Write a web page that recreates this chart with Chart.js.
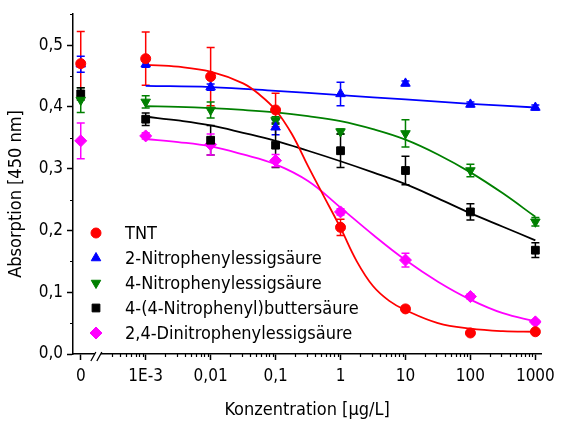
<!DOCTYPE html>
<html>
<head>
<meta charset="utf-8">
<script src="https://cdn.jsdelivr.net/npm/chart.js"></script>
<style>
  html, body { margin: 0; padding: 0; background: #fff; }
</style>
</head>
<body>
<canvas id="chart" width="561" height="422"></canvas>
<script>
// concentrations; "0" is drawn at the 1e-4 position left of the axis break
const conc = [1e-4, 1e-3, 0.01, 0.1, 1, 10, 100, 1000];
const xTickValues = [1e-4, 1e-3, 0.01, 0.1, 1, 10, 100, 1000];
const xTickLabels = ['0', '1E-3', '0,01', '0,1', '1', '10', '100', '1000'];
const yTickValues = [0, 0.1, 0.2, 0.3, 0.4, 0.5];

const seriesNames = ['TNT', '2-Nitrophenylessigsäure', '4-Nitrophenylessigsäure',
  '4-(4-Nitrophenyl)buttersäure', '2,4-Dinitrophenylessigsäure'];

// measured means and error bars
const tntMean = [0.470, 0.478, 0.449, 0.395, 0.205, 0.073, 0.034, 0.036];
const tntErr  = [0.052, 0.043, 0.047, 0.027, 0.013, 0.004, 0.003, 0.003];
const npaMean = [0.469, 0.469, 0.432, 0.367, 0.421, 0.438, 0.404, 0.399];
const npaErr  = [0.013, 0.005, 0.005, 0.012, 0.019, 0.004, 0.004, 0.004];
const p4Mean  = [0.411, 0.408, 0.395, 0.378, 0.360, 0.357, 0.297, 0.214];
const p4Err   = [0.020, 0.010, 0.013, 0.006, 0.004, 0.022, 0.010, 0.007];
const butMean = [0.421, 0.380, 0.346, 0.338, 0.329, 0.297, 0.230, 0.168];
const butErr  = [0.010, 0.010, 0.024, 0.036, 0.027, 0.023, 0.013, 0.012];
const dnpMean = [0.345, 0.353, 0.339, 0.313, 0.230, 0.152, 0.093, 0.052];
const dnpErr  = [0.029, 0.005, 0.017, 0.010, 0.005, 0.011, 0.004, 0.003];

// fitted curves
const tntFitX = [1e-3, 0.00316, 0.01, 0.0316, 0.0562, 0.1, 0.178, 0.316, 0.562, 1, 1.78, 3.16, 5.62, 10, 31.6, 100, 316, 1000];
const tntFitY = [0.468, 0.465, 0.457, 0.438, 0.420, 0.395, 0.356, 0.304, 0.254, 0.204, 0.150, 0.110, 0.086, 0.071, 0.050, 0.041, 0.037, 0.036];
const npaFitX = [1e-3, 0.01, 0.1, 1, 10, 100, 1000];
const npaFitY = [0.434, 0.432, 0.426, 0.419, 0.412, 0.405, 0.399];
const p4FitX  = [1e-3, 0.00316, 0.01, 0.0316, 0.1, 0.316, 1, 3.16, 10, 31.6, 100, 316, 1000];
const p4FitY  = [0.401, 0.400, 0.398, 0.395, 0.391, 0.385, 0.377, 0.364, 0.347, 0.323, 0.294, 0.260, 0.222];
const butFitX = [1e-3, 0.00316, 0.01, 0.0316, 0.1, 0.316, 1, 3.16, 10, 31.6, 100, 316, 1000];
const butFitY = [0.384, 0.378, 0.370, 0.358, 0.345, 0.329, 0.312, 0.294, 0.275, 0.252, 0.228, 0.206, 0.184];
const dnpFitX = [1e-3, 0.00316, 0.01, 0.0316, 0.1, 0.316, 1, 3.16, 10, 31.6, 100, 316, 1000];
const dnpFitY = [0.348, 0.343, 0.336, 0.323, 0.307, 0.280, 0.237, 0.193, 0.152, 0.117, 0.088, 0.066, 0.053];

const FONT = '"DejaVu Sans Condensed", "DejaVu Sans", sans-serif';
Chart.defaults.font.family = FONT;
Chart.defaults.color = '#000';

const series = [
  { name: seriesNames[0], color: '#ff0000', style: 'circle',   rot: 0,   r: 5,   mean: tntMean, err: tntErr, fx: tntFitX, fy: tntFitY },
  { name: seriesNames[1], color: '#0000ff', style: 'triangle', rot: 0,   r: 5.5, mean: npaMean, err: npaErr, fx: npaFitX, fy: npaFitY },
  { name: seriesNames[2], color: '#008000', style: 'triangle', rot: 180, r: 5.5, mean: p4Mean,  err: p4Err,  fx: p4FitX,  fy: p4FitY },
  { name: seriesNames[3], color: '#000000', style: 'rect',     rot: 0,   r: 5.5, mean: butMean, err: butErr, fx: butFitX, fy: butFitY },
  { name: seriesNames[4], color: '#ff00ff', style: 'rectRot',  rot: 0,   r: 6,   mean: dnpMean, err: dnpErr, fx: dnpFitX, fy: dnpFitY }
];

const datasets = [];
series.forEach(s => {
  datasets.push({
    label: s.name + ' fit',
    data: s.fx.map((x, i) => ({ x: x, y: s.fy[i] })),
    borderColor: s.color,
    borderWidth: 1.8,
    pointRadius: 0,
    fill: false,
    tension: 0.4,
    order: 2
  });
  datasets.push({
    label: s.name,
    data: conc.map((x, i) => ({ x: x, y: s.mean[i] })),
    showLine: false,
    pointStyle: s.style,
    rotation: s.rot,
    pointRadius: s.r,
    backgroundColor: s.color,
    borderColor: s.color,
    borderWidth: 1,
    errors: s.err,
    order: 1
  });
});

const errorBars = {
  id: 'errorBars',
  beforeDatasetsDraw(chart) {
    const ctx = chart.ctx;
    const y = chart.scales.y;
    chart.data.datasets.forEach((ds, i) => {
      if (!ds.errors) return;
      const meta = chart.getDatasetMeta(i);
      ctx.save();
      ctx.strokeStyle = ds.borderColor;
      ctx.lineWidth = 1.5;
      meta.data.forEach((pt, j) => {
        const v = ds.data[j].y, e = ds.errors[j];
        const top = y.getPixelForValue(v + e), bot = y.getPixelForValue(v - e);
        ctx.beginPath();
        ctx.moveTo(pt.x, top); ctx.lineTo(pt.x, bot);
        ctx.moveTo(pt.x - 4, top); ctx.lineTo(pt.x + 4, top);
        ctx.moveTo(pt.x - 4, bot); ctx.lineTo(pt.x + 4, bot);
        ctx.stroke();
      });
      ctx.restore();
    });
  }
};

const extras = {
  id: 'extras',
  afterDraw(chart) {
    const ctx = chart.ctx;
    const xs = chart.scales.x, ys = chart.scales.y;
    const area = chart.chartArea;
    ctx.save();
    ctx.strokeStyle = '#000';
    ctx.lineWidth = 1.2;
    // minor ticks on x
    ctx.beginPath();
    for (let d = -4; d <= 2; d++) {
      for (let m = 2; m <= 9; m++) {
        const v = m * Math.pow(10, d);
        if (v < 3e-4) continue;
        const px = Math.round(xs.getPixelForValue(v)) + 0.5;
        ctx.moveTo(px, area.bottom);
        ctx.lineTo(px, area.bottom + 3);
      }
    }
    // minor ticks on y
    for (let k = 0; k < 6; k++) {
      const py = Math.round(ys.getPixelForValue(0.05 + k * 0.1)) + 0.5;
      ctx.moveTo(area.left - 3, py);
      ctx.lineTo(area.left, py);
    }
    ctx.stroke();
    // axis break
    const bx = xs.getPixelForValue(1.9e-4);
    const by = area.bottom;
    ctx.fillStyle = '#fff';
    ctx.fillRect(bx - 4, by - 2, 6, 4);
    ctx.lineWidth = 1.3;
    ctx.beginPath();
    ctx.moveTo(bx - 8, by + 7); ctx.lineTo(bx - 3, by - 2);
    ctx.moveTo(bx - 2, by + 7); ctx.lineTo(bx + 3, by - 2);
    ctx.stroke();

    // y axis title, centred a little below the axis middle as in the original
    ctx.save();
    ctx.translate(16, 194);
    ctx.rotate(-Math.PI / 2);
    ctx.font = '18px ' + FONT;
    ctx.fillStyle = '#000';
    ctx.textAlign = 'center';
    ctx.textBaseline = 'middle';
    ctx.fillText('Absorption [450 nm]', 0, 0);
    ctx.restore();

    // legend
    const mx = area.left + 23, tx = area.left + 52;
    ctx.font = '18px ' + FONT;
    ctx.textBaseline = 'middle';
    ctx.textAlign = 'left';
    series.forEach((s, k) => {
      const ly = 233 + k * 25;
      ctx.fillStyle = s.color;
      ctx.strokeStyle = s.color;
      ctx.lineWidth = 1;
      Chart.helpers.drawPoint(ctx, { pointStyle: s.style, rotation: s.rot, radius: s.r, borderWidth: 1 }, mx, ly);
      ctx.fillStyle = '#000';
      ctx.fillText(s.name, tx, ly + 1);
    });
    ctx.restore();
  }
};

new Chart(document.getElementById('chart'), {
  type: 'line',
  data: { datasets: datasets },
  options: {
    responsive: false,
    animation: false,
    layout: { padding: { left: 0, right: 14, top: 6, bottom: 0 } },
    plugins: { legend: { display: false }, tooltip: { enabled: false } },
    scales: {
      x: {
        type: 'logarithmic',
        min: 7.6e-5,
        max: 1230,
        border: { color: '#000', width: 1.5 },
        grid: { drawOnChartArea: false, drawTicks: true, tickLength: 6, tickColor: '#000', tickWidth: 1.5 },
        afterBuildTicks: s => { s.ticks = xTickValues.map(v => ({ value: v })); },
        afterFit: s => { s.height = 68; },
        ticks: {
          autoSkip: false, maxRotation: 0, padding: 6,
          font: { size: 17 },
          callback: (v, i) => xTickLabels[i]
        },
        title: { display: true, text: 'Konzentration [µg/L]', font: { size: 18 }, padding: { top: 0, bottom: 1 } }
      },
      y: {
        min: 0,
        max: 0.55,
        border: { color: '#000', width: 1.5 },
        grid: { drawOnChartArea: false, drawTicks: true, tickLength: 6, tickColor: '#000', tickWidth: 1.5 },
        afterBuildTicks: s => { s.ticks = yTickValues.map(v => ({ value: v })); },
        afterFit: s => { s.width = 73; },
        ticks: {
          padding: 4,
          font: { size: 17 },
          callback: v => v.toFixed(1).replace('.', ',')
        }
      }
    }
  },
  plugins: [errorBars, extras]
});
</script>
</body>
</html>
